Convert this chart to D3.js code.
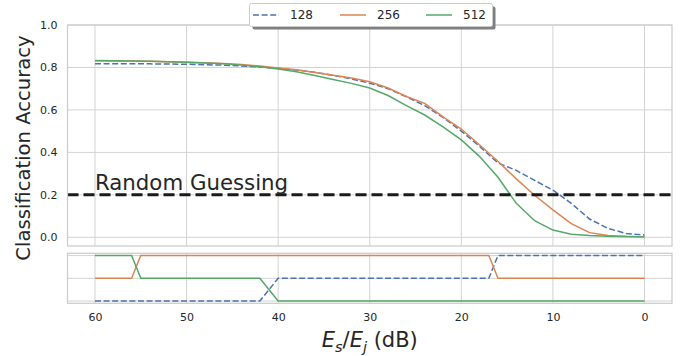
<!DOCTYPE html>
<html>
<head>
<meta charset="utf-8">
<script src="https://cdn.jsdelivr.net/npm/d3@7"></script>
<style>
  html, body { margin: 0; padding: 0; background: #fff; }
  svg { display: block; font-family: "DejaVu Sans", sans-serif; }
</style>
</head>
<body>
<svg id="chart" width="689" height="356"></svg>
<script>
// Signal-to-jamming ratio sweep (dB), sampled every 2 dB
const snr = [60, 58, 56, 54, 52, 50, 48, 46, 44, 42, 40, 38, 36, 34, 32, 30,
             28, 26, 24, 22, 20, 18, 16, 14, 12, 10, 8, 6, 4, 2, 0];

// Classification accuracy per block length
const acc128 = [0.818, 0.818, 0.817, 0.817, 0.816, 0.815, 0.813, 0.811, 0.807, 0.802,
                0.796, 0.788, 0.777, 0.763, 0.746, 0.726, 0.700, 0.662, 0.620, 0.565,
                0.500, 0.428, 0.350, 0.315, 0.268, 0.222, 0.160, 0.086, 0.042, 0.018, 0.011];
const acc256 = [0.832, 0.831, 0.830, 0.829, 0.827, 0.825, 0.822, 0.819, 0.814, 0.807,
                0.798, 0.789, 0.776, 0.763, 0.750, 0.733, 0.703, 0.663, 0.631, 0.567,
                0.510, 0.435, 0.358, 0.275, 0.198, 0.129, 0.064, 0.022, 0.008, 0.004, 0.003];
const acc512 = [0.833, 0.832, 0.831, 0.829, 0.827, 0.824, 0.821, 0.817, 0.811, 0.803,
                0.793, 0.780, 0.762, 0.743, 0.725, 0.703, 0.668, 0.620, 0.576, 0.520,
                0.459, 0.380, 0.283, 0.160, 0.078, 0.034, 0.014, 0.008, 0.005, 0.004, 0.003];

// Ranking of the three block lengths (2 = best), at the points where it changes
const rankSnr = [60, 56, 55, 42, 40, 17, 16, 0];
const rank128 = [0, 0, 0, 0, 1, 1, 2, 2];
const rank256 = [1, 1, 2, 2, 2, 2, 1, 1];
const rank512 = [2, 2, 1, 1, 0, 0, 0, 0];

const seriesNames = ["128", "256", "512"];
const seriesColors = ["#4C72B0", "#DD8452", "#55A868"];
const seriesDash = ["6,2.6", null, null];

const xTicks = [60, 50, 40, 30, 20, 10, 0];
const yTicks = [0.0, 0.2, 0.4, 0.6, 0.8, 1.0];
const randomGuess = 0.2;

const svg = d3.select("#chart");
const textColor = "#262626";
const gridColor = "#d3d3d3";

const left = 67.5, right = 672;
const top1 = 25, bot1 = 246;
const top2 = 253.3, bot2 = 303.3;

const x = d3.scaleLinear().domain([63, -3]).range([left, right]);
const y = d3.scaleLinear().domain([-0.041, 1.0]).range([bot1, top1]);
const yr = d3.scaleLinear().domain([-0.1, 2.1]).range([bot2, top2]);

// ---- upper panel: accuracy ----
const g1 = svg.append("g");
g1.append("g").selectAll("line").data(xTicks).join("line")
  .attr("x1", d => x(d)).attr("x2", d => x(d))
  .attr("y1", top1).attr("y2", bot1)
  .attr("stroke", gridColor).attr("stroke-width", 1);
g1.append("g").selectAll("line").data(yTicks).join("line")
  .attr("x1", left).attr("x2", right)
  .attr("y1", d => y(d)).attr("y2", d => y(d))
  .attr("stroke", gridColor).attr("stroke-width", 1);

const yAxis = d3.axisLeft(y).tickValues(yTicks).tickFormat(d3.format(".1f")).tickSize(0).tickPadding(10);
g1.append("g").attr("transform", `translate(${left},0)`).call(yAxis)
  .call(a => a.select(".domain").remove())
  .call(a => a.selectAll("text").attr("fill", textColor).style("font-size", "11px")
    .style("font-family", "DejaVu Sans, sans-serif"));

const accSeries = [acc128, acc256, acc512];
const line1 = d3.line().x(d => x(d[0])).y(d => y(d[1]));
accSeries.forEach((vals, i) => {
  g1.append("path")
    .datum(snr.map((s, k) => [s, vals[k]]))
    .attr("d", line1)
    .attr("fill", "none")
    .attr("stroke", seriesColors[i])
    .attr("stroke-width", 1.5)
    .attr("stroke-dasharray", seriesDash[i]);
});

g1.append("line")
  .attr("x1", left).attr("x2", right)
  .attr("y1", y(randomGuess)).attr("y2", y(randomGuess))
  .attr("stroke", "#1a1a1a").attr("stroke-width", 3)
  .attr("stroke-dasharray", "11,5");
g1.append("text")
  .attr("x", x(60)).attr("y", y(randomGuess) - 4.5)
  .attr("fill", textColor).style("font-size", "21.3px")
  .text("Random Guessing");

g1.append("rect")
  .attr("x", left).attr("y", top1).attr("width", right - left).attr("height", bot1 - top1)
  .attr("fill", "none").attr("stroke", "#cccccc").attr("stroke-width", 1.25);

// ---- lower panel: ranking ----
const g2 = svg.append("g");
g2.append("g").selectAll("line").data(xTicks).join("line")
  .attr("x1", d => x(d)).attr("x2", d => x(d))
  .attr("y1", top2).attr("y2", bot2)
  .attr("stroke", gridColor).attr("stroke-width", 1);
g2.append("g").selectAll("line").data([0, 1, 2]).join("line")
  .attr("x1", left).attr("x2", right)
  .attr("y1", d => yr(d)).attr("y2", d => yr(d))
  .attr("stroke", gridColor).attr("stroke-width", 1);

const rankSeries = [rank128, rank256, rank512];
const line2 = d3.line().x(d => x(d[0])).y(d => yr(d[1]));
rankSeries.forEach((vals, i) => {
  g2.append("path")
    .datum(rankSnr.map((s, k) => [s, vals[k]]))
    .attr("d", line2)
    .attr("fill", "none")
    .attr("stroke", seriesColors[i])
    .attr("stroke-width", 1.5)
    .attr("stroke-dasharray", seriesDash[i]);
});

g2.append("rect")
  .attr("x", left).attr("y", top2).attr("width", right - left).attr("height", bot2 - top2)
  .attr("fill", "none").attr("stroke", "#cccccc").attr("stroke-width", 1.25);

const xAxis = d3.axisBottom(x).tickValues(xTicks).tickFormat(d3.format("d")).tickSize(0).tickPadding(10);
g2.append("g").attr("transform", `translate(0,${bot2})`).call(xAxis)
  .call(a => a.select(".domain").remove())
  .call(a => a.selectAll("text").attr("fill", textColor).style("font-size", "11px")
    .style("font-family", "DejaVu Sans, sans-serif"));

// ---- axis titles ----
const xl = svg.append("text")
  .attr("x", (left + right) / 2).attr("y", 347)
  .attr("text-anchor", "middle").attr("fill", textColor)
  .style("font-size", "21px");
xl.append("tspan").attr("font-style", "italic").text("E");
xl.append("tspan").attr("font-style", "italic").attr("dy", 4.5).style("font-size", "14.5px").text("s");
xl.append("tspan").attr("dy", -4.5).text("/");
xl.append("tspan").attr("font-style", "italic").text("E");
xl.append("tspan").attr("font-style", "italic").attr("dy", 4.5).style("font-size", "14.5px").text("j");
xl.append("tspan").attr("dy", -4.5).text(" (dB)");

svg.append("text")
  .attr("transform", "translate(30,148) rotate(-90)")
  .attr("text-anchor", "middle").attr("fill", textColor)
  .style("font-size", "19.6px")
  .text("Classification Accuracy");

// ---- legend ----
const lg = svg.append("g");
const lx = 249.5, ly = 3.5, lw = 243, lh = 23;
lg.append("rect")
  .attr("x", lx + 3).attr("y", ly + 3).attr("width", lw).attr("height", lh)
  .attr("rx", 2).attr("fill", "#7f7f7f");
lg.append("rect")
  .attr("x", lx).attr("y", ly).attr("width", lw).attr("height", lh)
  .attr("rx", 2).attr("fill", "#fff").attr("stroke", "#cccccc").attr("stroke-width", 1);
const itemX = [253, 340, 426];
seriesNames.forEach((name, i) => {
  lg.append("line")
    .attr("x1", itemX[i]).attr("x2", itemX[i] + 26)
    .attr("y1", ly + lh / 2).attr("y2", ly + lh / 2)
    .attr("stroke", seriesColors[i]).attr("stroke-width", 1.5)
    .attr("stroke-dasharray", seriesDash[i]);
  lg.append("text")
    .attr("x", itemX[i] + 37).attr("y", ly + lh / 2 + 4.3)
    .attr("fill", textColor).style("font-size", "12px")
    .text(name);
});
</script>
</body>
</html>
